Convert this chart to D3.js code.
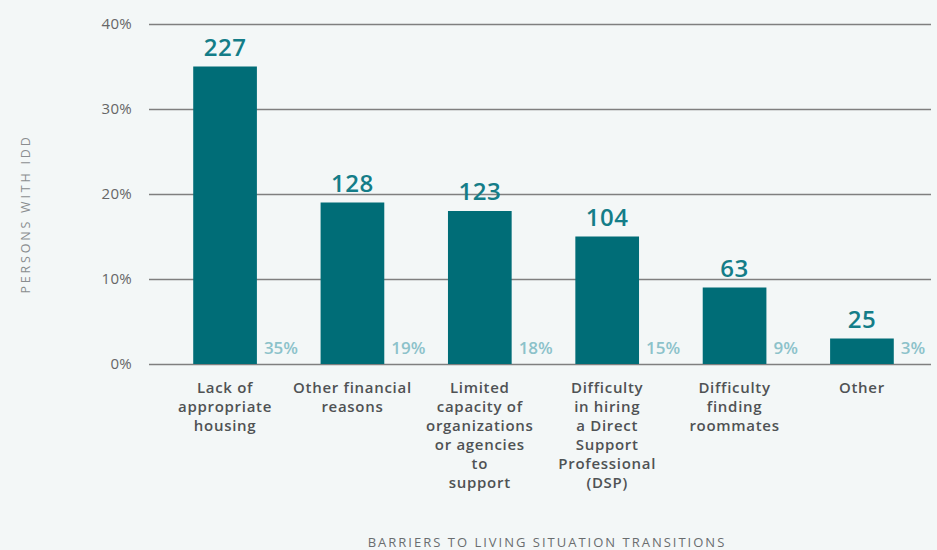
<!DOCTYPE html>
<html>
<head>
<meta charset="utf-8">
<script src="https://cdn.jsdelivr.net/npm/d3@7"></script>
<style>
  html, body { margin: 0; padding: 0; background: #f3f7f7; }
  svg { display: block; font-family: "Open Sans", "Noto Sans", sans-serif; }
</style>
</head>
<body>
<svg id="chart" width="937" height="550"></svg>
<script>
// Barriers reported for living situation transitions
const categories = [
  ["Lack of", "appropriate", "housing"],
  ["Other financial", "reasons"],
  ["Limited", "capacity of", "organizations", "or agencies", "to", "support"],
  ["Difficulty", "in hiring", "a Direct", "Support", "Professional", "(DSP)"],
  ["Difficulty", "finding", "roommates"],
  ["Other"]
];
const counts = [227, 128, 123, 104, 63, 25];
const percents = [35, 19, 18, 15, 9, 3];
const yTicks = [0, 10, 20, 30, 40];

const svg = d3.select("#chart");
const plot = { left: 149, right: 931, top: 24, bottom: 364 };

const keys = categories.map(c => c.join(" "));
const x = d3.scaleBand()
  .domain(keys)
  .range([155, 932])
  .paddingInner(0.5)
  .paddingOuter(0.3);

const y = d3.scaleLinear()
  .domain([0, 40])
  .range([plot.bottom, plot.top]);

// Gridlines and y tick labels
const yAxis = d3.axisLeft(y)
  .tickValues(yTicks)
  .tickSize(-(plot.right - plot.left))
  .tickPadding(17)
  .tickFormat(d => d + "%");

const gy = svg.append("g")
  .attr("transform", `translate(${plot.left},0)`)
  .call(yAxis);
gy.select(".domain").remove();
gy.selectAll(".tick line")
  .attr("stroke", "#7f7f7f")
  .attr("stroke-width", 1.5);
gy.selectAll(".tick text")
  .attr("fill", "#666")
  .attr("font-size", 15)
  .attr("letter-spacing", 0.3)
  .attr("font-family", "\"Open Sans\", sans-serif");

// Bars
svg.append("g").selectAll("rect")
  .data(percents)
  .join("rect")
  .attr("x", (d, i) => x(keys[i]))
  .attr("y", d => y(d))
  .attr("width", x.bandwidth())
  .attr("height", d => y(0) - y(d))
  .attr("fill", "#006d77");

// Counts above bars
svg.append("g").selectAll("text")
  .data(counts)
  .join("text")
  .attr("x", (d, i) => x(keys[i]) + x.bandwidth() / 2)
  .attr("y", (d, i) => y(percents[i]) - 11)
  .attr("text-anchor", "middle")
  .attr("fill", "#147d88")
  .attr("font-size", 24)
  .attr("font-weight", 600)
  .attr("letter-spacing", 0.5)
  .text(d => d);

// Percent labels beside bar bases
svg.append("g").selectAll("text")
  .data(percents)
  .join("text")
  .attr("x", (d, i) => x(keys[i]) + x.bandwidth() + 7)
  .attr("y", y(0) - 10)
  .attr("fill", "#8cc2ca")
  .attr("font-size", 17)
  .attr("font-weight", 600)
  .text(d => d + "%");

// Category labels
const cat = svg.append("g").selectAll("text")
  .data(categories)
  .join("text")
  .attr("x", (d, i) => x(keys[i]) + x.bandwidth() / 2)
  .attr("y", 392.5)
  .attr("text-anchor", "middle")
  .attr("fill", "#4f5254")
  .attr("font-size", 15)
  .attr("font-weight", 600)
  .attr("letter-spacing", 0.7);
cat.selectAll("tspan")
  .data(d => d)
  .join("tspan")
  .attr("x", function () { return this.parentNode.getAttribute("x"); })
  .attr("dy", (d, j) => j === 0 ? 0 : 19)
  .text(d => d);

// Axis titles
svg.append("text")
  .attr("transform", "translate(30,214) rotate(-90)")
  .attr("text-anchor", "middle")
  .attr("fill", "#8a8d8f")
  .attr("font-size", 12.5)
  .attr("letter-spacing", 2.8)
  .text("PERSONS WITH IDD");

svg.append("text")
  .attr("x", 547)
  .attr("y", 547)
  .attr("text-anchor", "middle")
  .attr("fill", "#6a6d6f")
  .attr("font-size", 13)
  .attr("letter-spacing", 2)
  .text("BARRIERS TO LIVING SITUATION TRANSITIONS");
</script>
</body>
</html>
